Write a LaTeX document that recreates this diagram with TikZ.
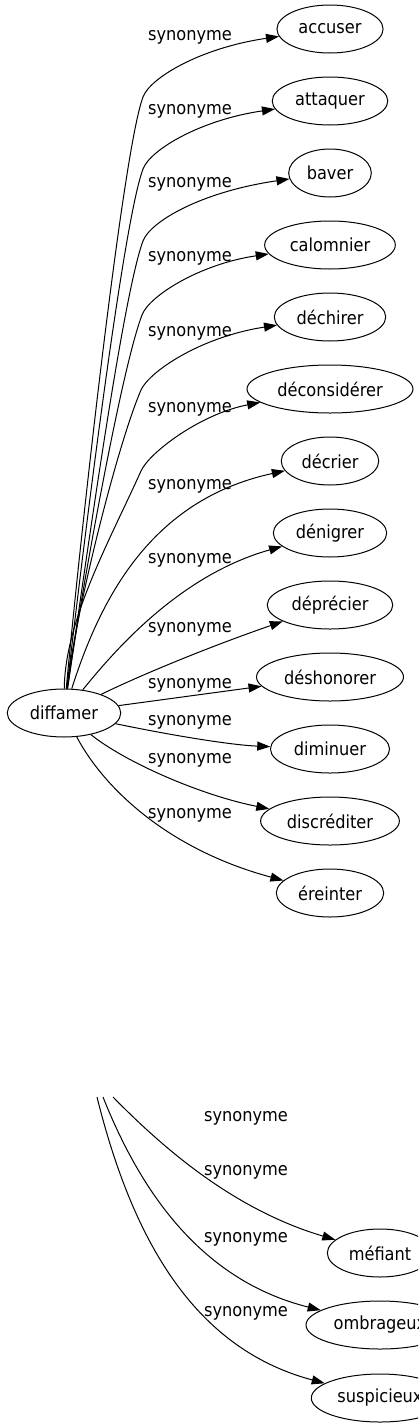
\documentclass[tikz,border=0pt]{standalone}
\usepackage{fontspec}
\setmainfont{DejaVu Sans Condensed}
\usepackage{tikz}
\usetikzlibrary{arrows.meta,shapes.geometric}
\tikzstyle{word}=[draw,ellipse,line width=1pt,minimum height=48pt,inner xsep=6pt,inner ysep=3pt,font=\fontsize{18}{21}\selectfont]
\tikzstyle{rel}=[inner sep=0pt,anchor=base,font=\fontsize{18}{21}\selectfont]
\tikzstyle{syn}=[line width=1pt,-{Triangle[length=13pt,width=9pt]}]

\begin{document}
\begin{tikzpicture}[x=1pt,y=-1pt]
\useasboundingbox (0,0) rectangle (418,1427);
\clip (0,0) rectangle (418,1427);
\node [word] (diffamer) at (64,713) {diffamer};
\node [word] (accuser) at (330,29) {accuser};
\node [word] (attaquer) at (330,101) {attaquer};
\node [word] (baver) at (330,173) {baver};
\node [word] (calomnier) at (330,245) {calomnier};
\node [word] (dechirer) at (330,317) {déchirer};
\node [word] (deconsiderer) at (330,389) {déconsidérer};
\node [word] (decrier) at (330,461) {décrier};
\node [word] (denigrer) at (330,533) {dénigrer};
\node [word] (deprecier) at (330,605) {déprécier};
\node [word] (deshonorer) at (330,677) {déshonorer};
\node [word] (diminuer) at (330,749) {diminuer};
\node [word] (discrediter) at (330,821) {discréditer};
\node [word] (ereinter) at (330,893) {éreinter};

\node [rel] (l1) at (190,40) {synonyme};
\node [rel] (l2) at (190,114) {synonyme};
\node [rel] (l3) at (190,187) {synonyme};
\node [rel] (l4) at (190,261) {synonyme};
\node [rel] (l5) at (190,336) {synonyme};
\node [rel] (l6) at (190,412) {synonyme};
\node [rel] (l7) at (190,489) {synonyme};
\node [rel] (l8) at (190,563) {synonyme};
\node [rel] (l9) at (190,632) {synonyme};
\node [rel] (l10) at (190,688) {synonyme};
\node [rel] (l11) at (190,725) {synonyme};
\node [rel] (l12) at (190,763) {synonyme};
\node [rel] (l13) at (190,818) {synonyme};

\draw [syn] (diffamer) .. controls (78,560) and (122,153) .. (143,97) .. controls (150,78) and (200,48) .. (accuser);
\draw [syn] (diffamer) .. controls (80,575) and (122,225) .. (143,169) .. controls (150,150) and (200,120) .. (attaquer);
\draw [syn] (diffamer) .. controls (82,590) and (122,297) .. (143,241) .. controls (150,222) and (200,192) .. (baver);
\draw [syn] (diffamer) .. controls (80,600) and (121,370) .. (142,315) .. controls (149,296) and (200,264) .. (calomnier);
\draw [syn] (diffamer) .. controls (76,610) and (117,446) .. (141,390) .. controls (149,372) and (200,337) .. (dechirer);
\draw [syn] (diffamer) .. controls (65,620) and (110,540) .. (141,471) .. controls (149,453) and (200,414) .. (deconsiderer);
\draw [syn] (diffamer) .. controls (100,600) and (150,500) .. (decrier);
\draw [syn] (diffamer) .. controls (115,650) and (180,575) .. (denigrer);
\draw [syn] (diffamer) .. controls (130,680) and (200,650) .. (deprecier);
\draw [syn] (diffamer) -- (deshonorer);
\draw [syn] (diffamer) .. controls (170,735) and (230,745) .. (diminuer);
\draw [syn] (diffamer) .. controls (125,762) and (200,795) .. (discrediter);
\draw [syn] (diffamer) .. controls (105,790) and (170,850) .. (ereinter);

\coordinate (top1) at (113,1097);
\coordinate (top2) at (103,1097);
\coordinate (top3) at (97,1097);
\node [word] (mefiant) at (380,1253) {méfiant};
\node [word] (ombrageux) at (380,1325) {ombrageux};
\node [word] (suspicieux) at (380,1398) {suspicieux};
\node [rel] (l14) at (246,1121) {synonyme};
\node [rel] (l15) at (246,1175) {synonyme};
\node [rel] (l16) at (246,1242) {synonyme};
\node [rel] (l17) at (246,1316) {synonyme};
\draw [syn] (top1) .. controls (165,1150) and (235,1210) .. (mefiant);
\draw [syn] (top2) .. controls (140,1190) and (200,1280) .. (ombrageux);
\draw [syn] (top3) .. controls (135,1250) and (200,1350) .. (suspicieux);
\end{tikzpicture}
\end{document}
